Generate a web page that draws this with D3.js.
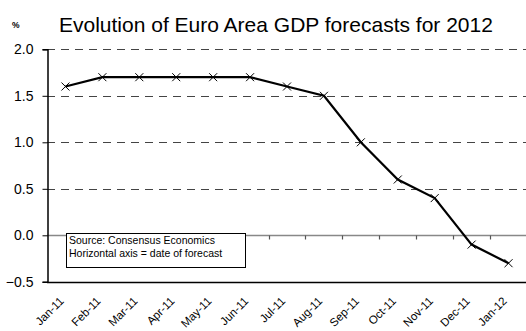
<!DOCTYPE html>
<html>
<head>
<meta charset="utf-8">
<script src="https://cdn.jsdelivr.net/npm/d3@7"></script>
<style>
  html, body { margin: 0; padding: 0; background: #fff; }
  svg { display: block; font-family: "Liberation Sans", Arial, sans-serif; }
</style>
</head>
<body>
<svg id="chart" width="526" height="331"></svg>
<script>
// Consensus forecasts of 2012 euro area GDP growth, by date of forecast
const months = ["Jan-11","Feb-11","Mar-11","Apr-11","May-11","Jun-11","Jul-11",
                "Aug-11","Sep-11","Oct-11","Nov-11","Dec-11","Jan-12"];
const forecasts = [1.6, 1.7, 1.7, 1.7, 1.7, 1.7, 1.6, 1.5, 1.0, 0.6, 0.4, -0.1, -0.3];
const yTicks = [-0.5, 0.0, 0.5, 1.0, 1.5, 2.0];
const gridValues = [0.5, 1.0, 1.5, 2.0];
const title = "Evolution of Euro Area GDP forecasts for 2012";
const noteLines = ["Source: Consensus Economics", "Horizontal axis = date of forecast"];

const svg = d3.select("#chart");
const plotLeft = 47, plotRight = 527, plotTop = 49.3, plotBottom = 281.8;

const x = d3.scaleBand().domain(months).range([plotLeft, plotRight]);
const y = d3.scaleLinear().domain([-0.5, 2.0]).range([plotBottom, plotTop]);

// dashed gridlines
svg.append("g").selectAll("line").data(gridValues).join("line")
  .attr("x1", plotLeft).attr("x2", plotRight)
  .attr("y1", d => Math.round(y(d)) + 0.5).attr("y2", d => Math.round(y(d)) + 0.5)
  .attr("stroke", "#444").attr("stroke-width", 1.2)
  .attr("stroke-dasharray", "8,6");

// zero line with category-boundary ticks
const y0 = Math.round(y(0)) + 0.5;
svg.append("line").attr("x1", plotLeft).attr("x2", plotRight)
  .attr("y1", y0).attr("y2", y0)
  .attr("stroke", "#888").attr("stroke-width", 1.5);
svg.append("g").selectAll("line").data(months.slice(1)).join("line")
  .attr("x1", d => Math.round(x(d)) + 0.5).attr("x2", d => Math.round(x(d)) + 0.5)
  .attr("y1", y0).attr("y2", y0 + 4)
  .attr("stroke", "#555").attr("stroke-width", 1.2);

// bottom axis line
svg.append("line").attr("x1", plotLeft).attr("x2", plotRight)
  .attr("y1", Math.round(plotBottom) + 0.5).attr("y2", Math.round(plotBottom) + 0.5)
  .attr("stroke", "#000").attr("stroke-width", 1.3);

// y axis
const yAxis = d3.axisLeft(y).tickValues(yTicks).tickFormat(d3.format(".1f")).tickSize(5).tickPadding(9);
const yg = svg.append("g").attr("transform", `translate(${plotLeft + 0.5},0)`).call(yAxis);
yg.select(".domain").attr("stroke", "#000").attr("stroke-width", 1.5);
yg.selectAll(".tick line").attr("stroke", "#000");
yg.selectAll("text").attr("font-size", 14).attr("fill", "#000")
  .attr("font-family", "Liberation Sans, Arial, sans-serif");

// rotated month labels
svg.append("g").selectAll("text").data(months).join("text")
  .attr("transform", d => `translate(${x(d) + x.bandwidth() / 2 - 1},${plotBottom + 20}) rotate(-45)`)
  .attr("text-anchor", "end")
  .attr("font-size", 11.5)
  .attr("fill", "#000")
  .text(d => d);

// forecast line
const cx = d => x(d) + x.bandwidth() / 2;
const line = d3.line().x((d, i) => cx(months[i])).y(d => y(d));
svg.append("path").datum(forecasts)
  .attr("d", line).attr("fill", "none")
  .attr("stroke", "#000").attr("stroke-width", 2.2);

// x markers
const s = 4;
svg.append("g").selectAll("path").data(forecasts).join("path")
  .attr("d", (d, i) => {
    const px = cx(months[i]), py = y(d);
    return `M${px - s},${py - s}L${px + s},${py + s}M${px - s},${py + s}L${px + s},${py - s}`;
  })
  .attr("stroke", "#000").attr("stroke-width", 1);

// note box
const note = svg.append("g");
note.append("rect").attr("x", 66.5).attr("y", 233.5).attr("width", 179).attr("height", 34)
  .attr("fill", "#fff").attr("stroke", "#000").attr("stroke-width", 1);
note.selectAll("text").data(noteLines).join("text")
  .attr("x", 69).attr("y", (d, i) => 243.5 + i * 13.5)
  .attr("font-size", 10.5).attr("fill", "#000")
  .text(d => d);

// title and unit
svg.append("text").attr("x", 59).attr("y", 31.5)
  .attr("font-size", 21).attr("fill", "#000").text(title);
svg.append("text").attr("x", 12).attr("y", 28)
  .attr("font-size", 8.5).attr("font-weight", "bold").attr("fill", "#000").text("%");
</script>
</body>
</html>
